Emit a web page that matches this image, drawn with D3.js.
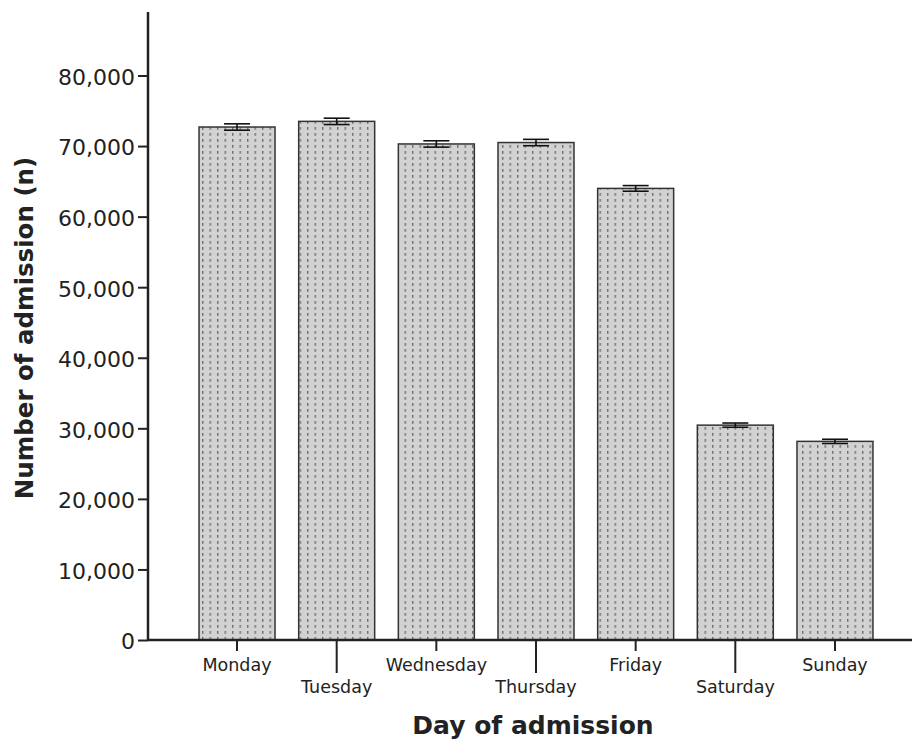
<!DOCTYPE html>
<html>
<head>
<meta charset="utf-8">
<script src="https://cdn.jsdelivr.net/npm/d3@7"></script>
<style>
  body { margin: 0; background: #fff; }
  svg { display: block; }
  text { font-family: "DejaVu Sans", sans-serif; fill: #222; }
</style>
</head>
<body>
<svg id="chart" width="912" height="745"></svg>
<script>
// values
const days = ['Monday', 'Tuesday', 'Wednesday', 'Thursday', 'Friday', 'Saturday', 'Sunday'];
const admissions = [72700, 73500, 70300, 70500, 64000, 30450, 28150];
const errors = [450, 450, 450, 450, 400, 300, 300];
const yTicks = [0, 10000, 20000, 30000, 40000, 50000, 60000, 70000, 80000];

const svg = d3.select('#chart');

const axLeft = 148, axBottom = 640, axTop = 12, axRight = 912;

const y = d3.scaleLinear()
  .domain([0, 89000])
  .range([axBottom, axTop]);

const x = d3.scaleBand()
  .domain(days)
  .range([axLeft, 924])
  .paddingInner(0.2375)
  .paddingOuter(0.512);

// dotted fill
const defs = svg.append('defs');
const pat = defs.append('pattern')
  .attr('id', 'dots')
  .attr('patternUnits', 'userSpaceOnUse')
  .attr('width', 7.5)
  .attr('height', 6)
  .attr('x', x(days[0]) + 3);
pat.append('rect').attr('width', 7.5).attr('height', 6).attr('fill', '#d2d2d2');
pat.append('rect').attr('x', 0).attr('y', 1).attr('width', 1.4).attr('height', 2.8).attr('fill', '#707070');

// bars
svg.append('g')
  .selectAll('rect')
  .data(days)
  .enter()
  .append('rect')
  .attr('x', d => x(d))
  .attr('y', (d, i) => y(admissions[i]))
  .attr('width', x.bandwidth())
  .attr('height', (d, i) => axBottom - y(admissions[i]))
  .attr('fill', 'url(#dots)')
  .attr('stroke', '#333')
  .attr('stroke-width', 1.5);

// error bars
const capW = 13;
const eb = svg.append('g').attr('stroke', '#111').attr('stroke-width', 1.6);
days.forEach((d, i) => {
  const cx = x(d) + x.bandwidth() / 2;
  const hi = y(admissions[i] + errors[i]);
  const lo = y(admissions[i] - errors[i]);
  eb.append('line').attr('x1', cx).attr('x2', cx).attr('y1', hi).attr('y2', lo);
  eb.append('line').attr('x1', cx - capW).attr('x2', cx + capW).attr('y1', hi).attr('y2', hi);
  eb.append('line').attr('x1', cx - capW).attr('x2', cx + capW).attr('y1', lo).attr('y2', lo);
});

// y axis
const yAxis = svg.append('g')
  .attr('transform', `translate(${axLeft},0)`)
  .call(d3.axisLeft(y).tickValues(yTicks).tickSize(10).tickPadding(3).tickFormat(d3.format(',')));
yAxis.select('.domain').remove();
yAxis.selectAll('.tick line').attr('stroke', '#222').attr('stroke-width', 2);
yAxis.selectAll('.tick text').attr('font-size', 22).attr('fill', '#222').attr('dy', '0.4em');
svg.append('line')
  .attr('x1', axLeft).attr('x2', axLeft).attr('y1', axTop).attr('y2', axBottom)
  .attr('stroke', '#222').attr('stroke-width', 2.5);

// x axis with staggered labels
const xAxis = svg.append('g').attr('transform', `translate(0,${axBottom})`);
xAxis.append('line')
  .attr('x1', axLeft).attr('x2', axRight).attr('y1', 0).attr('y2', 0)
  .attr('stroke', '#222').attr('stroke-width', 2.5);
const xt = xAxis.selectAll('.tick')
  .data(days)
  .enter()
  .append('g')
  .attr('class', 'tick')
  .attr('transform', d => `translate(${x(d) + x.bandwidth() / 2},0)`);
xt.append('line')
  .attr('y1', 0)
  .attr('y2', (d, i) => i % 2 ? 33 : 11)
  .attr('stroke', '#222').attr('stroke-width', 2);
xt.append('text')
  .attr('y', (d, i) => i % 2 ? 53 : 31)
  .attr('text-anchor', 'middle')
  .attr('font-size', 17.5)
  .text(d => d);

// axis titles
svg.append('text')
  .attr('x', 533)
  .attr('y', 734)
  .attr('text-anchor', 'middle')
  .attr('font-size', 25)
  .attr('font-weight', 'bold')
  .text('Day of admission');

svg.append('text')
  .attr('transform', 'translate(33,328) rotate(-90)')
  .attr('text-anchor', 'middle')
  .attr('font-size', 24.5)
  .attr('font-weight', 'bold')
  .text('Number of admission (n)');
</script>
</body>
</html>
